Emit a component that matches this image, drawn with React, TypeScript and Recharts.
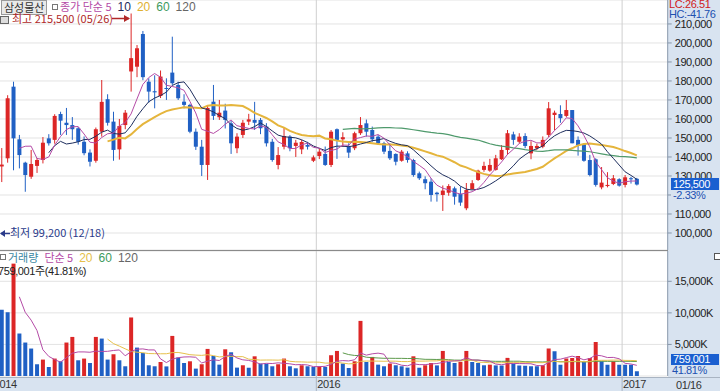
import React from "react";
import { Bar, CartesianGrid, Cell, ComposedChart, Line, ReferenceLine, XAxis, YAxis } from "recharts";

// weekly candles, week of 2014-12-15 (index 0) .. week of 2017-01-16 (index 109)
const OPEN = [
  106000, 135000, 139300, 177000, 149300, 137000, 129600, 135300, 138400, 149800,
  149000, 162600, 158000, 156800, 155100, 148000, 142300, 138000, 153300, 170400,
  158600, 144000, 156800, 185000, 187500, 204700, 179600, 174600, 172100, 176300,
  184400, 177900, 169100, 167400, 153300, 145400, 135800, 169100, 160900, 164400,
  157700, 144600, 151600, 158600, 159500, 159500, 156000, 148000, 135800, 145400,
  150700, 145800, 144000, 146300, 138000, 140500, 141600, 135800, 154600, 149300,
  145400, 144600, 152500, 157700, 154200, 150700, 147200, 143200, 141600, 138000,
  141900, 138400, 131400, 128300, 127000, 121200, 120000, 121200, 123500, 120500,
  113000, 123000, 127900, 133200, 132800, 133200, 138800, 143700, 151900, 148000,
  151000, 141900, 144600, 145400, 151600, 162100, 162600, 161600, 164700, 149000,
  146800, 138400, 138800, 124000, 124700, 125800, 128300, 125300, 128800, 128500,
];
const HIGH = [
  130000, 144700, 172500, 179600, 151600, 137500, 143700, 139500, 150500, 152000,
  162500, 163800, 165800, 161000, 155800, 150800, 144000, 155500, 180500, 173000,
  163800, 160000, 164700, 215500, 198900, 206300, 181400, 183000, 185500, 181400,
  203300, 179600, 173000, 168000, 155000, 149000, 167000, 177900, 170000, 168000,
  159000, 152500, 159500, 162700, 169000, 160500, 157800, 149500, 145200, 155500,
  151500, 149000, 149000, 148000, 140800, 144500, 145500, 154200, 155000, 153000,
  147200, 153300, 161000, 159700, 156000, 151600, 148000, 147200, 141900, 143700,
  143000, 139000, 132300, 129800, 128800, 121700, 125000, 125700, 124400, 124400,
  126300, 127800, 133300, 137500, 139000, 141100, 146300, 154200, 153300, 152500,
  152500, 148300, 147000, 150800, 168900, 164400, 167200, 170000, 164700, 150800,
  147200, 141100, 139300, 134700, 132000, 130500, 128800, 130500, 129500, 129000,
];
const LOW = [
  99200, 126800, 137000, 133000, 134000, 121700, 128500, 131600, 136600, 146000,
  147000, 151600, 151600, 149000, 146500, 140900, 135000, 137000, 150700, 156500,
  138000, 138600, 154600, 174400, 182000, 180400, 168600, 165600, 171000, 170000,
  177900, 170000, 165600, 152500, 143700, 130000, 127900, 159500, 159500, 155000,
  141600, 142000, 150000, 156800, 154200, 152000, 145500, 137500, 133500, 144000,
  143000, 140000, 141500, 143900, 137300, 138900, 135300, 134700, 139000, 145300,
  139500, 143600, 151600, 150700, 148000, 146300, 141500, 138400, 135600, 137500,
  137000, 129600, 127900, 123000, 116500, 116500, 111600, 119600, 114900, 114300,
  112000, 122800, 127400, 132200, 132200, 132800, 138400, 141100, 146400, 147200,
  144600, 138800, 143700, 144600, 150400, 154000, 158000, 160900, 147200, 140700,
  137500, 129800, 124400, 123000, 124000, 125200, 124400, 124000, 126000, 125000,
];
const CLOSE = [
  125000, 136000, 170900, 149800, 141000, 130500, 136300, 138400, 147500, 147200,
  161600, 159100, 156800, 154600, 148000, 142000, 137500, 154600, 169000, 158000,
  143700, 156300, 163300, 192000, 197200, 182000, 174400, 174000, 182300, 176000,
  178800, 170900, 167400, 153300, 145400, 135800, 165800, 161600, 163300, 159500,
  147200, 150700, 158000, 159800, 158000, 155100, 147200, 138400, 141000, 151000,
  144600, 147500, 147900, 145400, 139800, 142800, 135800, 153300, 149000, 150400,
  142300, 152500, 156800, 153300, 149300, 147200, 142800, 139300, 137500, 142800,
  138400, 130500, 128800, 126200, 120000, 120400, 122300, 124700, 119100, 116000,
  122600, 126200, 132800, 135300, 135800, 139300, 143700, 152500, 149000, 150700,
  145800, 145800, 145800, 149000, 165600, 163300, 160400, 164700, 147200, 146300,
  138000, 130500, 125300, 126500, 125300, 128800, 124900, 129300, 128300, 125500,
];
// weekly volume, shares
const VOLUME = [
  17600000, 10500000, 10100000, 17800000, 6730000, 5300000, 4350000, 1860000, 2600000, 1430000,
  2760000, 2330000, 5300000, 6190000, 2490000, 2760000, 2060000, 6190000, 5930000, 2600000,
  3440000, 2490000, 1540000, 9270000, 4500000, 3650000, 1700000, 1540000, 2220000, 1520000,
  6350000, 2920000, 2060000, 2330000, 1170000, 1860000, 4290000, 3170000, 1800000, 4230000,
  3760000, 1330000, 1700000, 1310000, 3120000, 1970000, 1940000, 1540000, 1860000, 2760000,
  1540000, 1220000, 1700000, 1540000, 1430000, 1540000, 1430000, 3290000, 3970000, 1970000,
  1270000, 2330000, 8730000, 2220000, 3020000, 1800000, 1540000, 1970000, 1700000, 1540000,
  1330000, 3120000, 1310000, 1700000, 2060000, 1680000, 3970000, 2220000, 2060000, 2240000,
  3970000, 2220000, 2060000, 1700000, 1800000, 1680000, 1660000, 2870000, 1970000, 1650000,
  1640000, 1540000, 1530000, 1700000, 4350000, 3930000, 1800000, 2760000, 2870000, 3170000,
  2220000, 2870000, 5400000, 2330000, 1800000, 2330000, 1800000, 1790000, 1780000, 759001,
];

const PRICE_TICKS = [100000, 110000, 120000, 130000, 140000, 150000, 160000, 170000, 180000, 190000, 200000, 210000];
const VOLUME_TICKS = [5000000, 10000000, 15000000];
const YEAR_TICKS = [-0.5, 54.5, 106.5];
const YEAR_LABELS = ["2014", "2016", "2017"];

const RED = "#dc2626";
const BLUE = "#2060c4";
const PANEL = "#d8e3f0";
const FONT = "'Liberation Sans', 'Noto Sans CJK KR', sans-serif";
const KFONT = "'Noto Sans CJK KR', sans-serif";
const NUM = { fontSize: 11, letterSpacing: -0.4 };

// plot starts left of the window so the first (IPO) week sits off-screen like the original
const PLOT_LEFT = -12.7;
const CHART_W = 720 - PLOT_LEFT;
const X_DOMAIN: [number, number] = [-1.5, 114.25];

// simple moving averages, as the chart computes them
function sma(values: number[], n: number) {
  return values.map((_, i) => {
    if (i < n - 1) return null;
    let s = 0;
    for (let k = i - n + 1; k <= i; k++) s += values[k];
    return s / n;
  });
}

const MA5 = sma(CLOSE, 5);
const MA10 = sma(CLOSE, 10);
const MA20 = sma(CLOSE, 20);
const MA60 = sma(CLOSE, 60);
const VMA5 = sma(VOLUME, 5);
const VMA20 = sma(VOLUME, 20);
const VMA60 = sma(VOLUME, 60);

const rows = OPEN.map((open, i) => ({
  i,
  open,
  high: HIGH[i],
  low: LOW[i],
  close: CLOSE[i],
  range: [LOW[i], HIGH[i]],
  ma5: MA5[i],
  ma10: MA10[i],
  ma20: MA20[i],
  ma60: MA60[i],
  vol: VOLUME[i],
  vma5: VMA5[i],
  vma20: VMA20[i],
  vma60: VMA60[i],
}));

function Candle(props: any) {
  const { x, y, width, height, payload } = props;
  if (!payload) return null;
  const { open, close, high, low } = payload;
  const color = close >= open ? RED : BLUE;
  const k = high === low ? 0 : height / (high - low);
  const cx = x + width / 2;
  const top = y + (high - Math.max(open, close)) * k;
  const h = Math.max(1, Math.abs(open - close) * k);
  return (
    <g>
      <line x1={cx} x2={cx} y1={y} y2={y + height} stroke={color} strokeWidth={1} />
      <rect x={x} y={top} width={width} height={h} fill={color} />
    </g>
  );
}

function YearTick(props: any) {
  const { x, y, payload } = props;
  const idx = YEAR_TICKS.indexOf(payload.value);
  return (
    <g>
      <line x1={x} x2={x} y1={y} y2={y + 15} stroke="#a9b4c2" />
      <text x={x + 1} y={y + 12} fontSize={11} letterSpacing={-0.4} fontFamily={FONT} fill="#333" textAnchor="start">
        {YEAR_LABELS[idx]}
      </text>
    </g>
  );
}

const fmt = (v: number) => v.toLocaleString("en-US");

export default function App() {
  return (
    <div style={{ position: "relative", width: 720, height: 391, overflow: "hidden", background: PANEL, fontFamily: FONT }}>
      <style>{`body{margin:0}`}</style>
      <div style={{ position: "absolute", left: 0, top: 0, width: 668, height: 377, background: "#fff" }} />
      <div style={{ position: "absolute", left: 0, top: 377, width: 720, height: 1, background: "#a9b4c2" }} />

      {/* price panel */}
      <div style={{ position: "absolute", left: PLOT_LEFT, top: 0 }}>
        <ComposedChart width={CHART_W} height={250} data={rows} margin={{ top: 0, right: 0, bottom: 0, left: 0 }}>
          <CartesianGrid vertical={false} stroke="#e3e3e3" />
          <XAxis dataKey="i" type="number" domain={X_DOMAIN} allowDataOverflow hide />
          <YAxis
            orientation="right"
            width={52}
            domain={[91050, 222600]}
            allowDataOverflow
            ticks={PRICE_TICKS}
            interval={0}
            tickFormatter={fmt}
            tick={{ ...NUM, fill: "#222", fontFamily: FONT }}
            tickSize={4}
            tickMargin={3}
            axisLine={{ stroke: "#8797aa" }}
            tickLine={{ stroke: "#8797aa" }}
          />
          {YEAR_TICKS.map((t) => (
            <ReferenceLine key={t} x={t} stroke="#cfcfcf" />
          ))}
          <Bar dataKey="range" barSize={4} shape={Candle} isAnimationActive={false} />
          <Line dataKey="ma20" stroke="#e5b53c" strokeWidth={2} dot={false} isAnimationActive={false} />
          <Line dataKey="ma60" stroke="#4f9a6c" strokeWidth={1.2} dot={false} isAnimationActive={false} />
          <Line dataKey="ma10" stroke="#1d2d5c" strokeWidth={1} dot={false} isAnimationActive={false} />
          <Line dataKey="ma5" stroke="#b44aa6" strokeWidth={1} dot={false} isAnimationActive={false} />
        </ComposedChart>
      </div>
      <div style={{ position: "absolute", left: 0, top: 250, width: 668, height: 1, background: "#8a8a8a" }} />

      {/* volume panel */}
      <div style={{ position: "absolute", left: PLOT_LEFT, top: 251 }}>
        <ComposedChart width={CHART_W} height={140} data={rows} margin={{ top: 0, right: 0, bottom: 0, left: 0 }}>
          <CartesianGrid vertical={false} stroke="#e3e3e3" />
          <XAxis
            dataKey="i"
            type="number"
            domain={X_DOMAIN}
            allowDataOverflow
            ticks={YEAR_TICKS}
            interval={0}
            height={15}
            tick={YearTick}
            tickSize={0}
            tickMargin={0}
            tickLine={false}
            axisLine={false}
          />
          <YAxis
            orientation="right"
            width={52}
            domain={[0, 19800000]}
            allowDataOverflow
            ticks={VOLUME_TICKS}
            interval={0}
            tickFormatter={(v: number) => fmt(v / 1000) + "K"}
            tick={{ ...NUM, fill: "#222", fontFamily: FONT }}
            tickSize={4}
            tickMargin={3}
            axisLine={{ stroke: "#8797aa" }}
            tickLine={{ stroke: "#8797aa" }}
          />
          {YEAR_TICKS.map((t) => (
            <ReferenceLine key={t} x={t} stroke="#cfcfcf" />
          ))}
          <Bar dataKey="vol" barSize={4} isAnimationActive={false}>
            {rows.map((r, i) => (
              <Cell key={i} fill={i > 0 && r.vol <= VOLUME[i - 1] ? BLUE : RED} />
            ))}
          </Bar>
          <Line dataKey="vma60" stroke="#5c9a4a" strokeWidth={1} dot={false} isAnimationActive={false} />
          <Line dataKey="vma20" stroke="#e6c04a" strokeWidth={1} dot={false} isAnimationActive={false} />
          <Line dataKey="vma5" stroke="#b44aa6" strokeWidth={1} dot={false} isAnimationActive={false} />
        </ComposedChart>
      </div>

      {/* price header */}
      <div style={{ position: "absolute", left: 1, top: 0, height: 13, padding: "0 2px", background: "#e9e9e9", border: "1px solid #9a9a9a", fontFamily: KFONT, fontSize: 11, lineHeight: "13px", color: "#333" }}>
        삼성물산
      </div>
      <div style={{ position: "absolute", left: 52, top: 4, width: 4, height: 4, border: "1px solid #777", background: "#fff" }} />
      <div style={{ position: "absolute", left: 60, top: -1, fontSize: 12, lineHeight: "14px", whiteSpace: "nowrap" }}>
        <span style={{ color: "#b44aa6", fontFamily: KFONT, fontSize: 11 }}>종가 단순 5</span>
        <span style={{ color: "#1d2d5c", marginLeft: 6 }}>10</span>
        <span style={{ color: "#e0b030", marginLeft: 6 }}>20</span>
        <span style={{ color: "#3d9a5c", marginLeft: 6 }}>60</span>
        <span style={{ color: "#666", marginLeft: 6 }}>120</span>
      </div>
      <div style={{ position: "absolute", left: 0, top: 16, width: 7, height: 6, border: "1px solid #666", background: "#ddd" }} />
      <div style={{ position: "absolute", left: 12, top: 13, fontFamily: KFONT, fontSize: 11, lineHeight: "11px", color: "#b02828", whiteSpace: "nowrap" }}>
        최고 215,500 (05/26)
      </div>
      <svg style={{ position: "absolute", left: 0, top: 0 }} width={140} height={30}>
        <line x1={112} x2={129} y1={18.5} y2={18.5} stroke="#b02828" strokeWidth={1.5} />
        <path d="M124 15 L130 18.5 L124 22 Z" fill="#b02828" />
      </svg>
      <div style={{ position: "absolute", left: 10, top: 226, fontFamily: KFONT, fontSize: 11, lineHeight: "13px", color: "#2a3a8a", whiteSpace: "nowrap" }}>
        최저 99,200 (12/18)
      </div>
      <svg style={{ position: "absolute", left: 0, top: 226 }} width={12} height={14}>
        <line x1={1} x2={10} y1={7.5} y2={7.5} stroke="#2a3a8a" strokeWidth={1.5} />
        <path d="M0 7.5 L5 4 L5 11 Z" fill="#2a3a8a" />
      </svg>

      {/* volume header */}
      <div style={{ position: "absolute", left: 0, top: 254, width: 4, height: 4, border: "1px solid #777", background: "#fff" }} />
      <div style={{ position: "absolute", left: 8, top: 250, fontSize: 12, lineHeight: "14px", whiteSpace: "nowrap" }}>
        <span style={{ color: "#3a86a0", fontFamily: KFONT, fontSize: 11 }}>거래량</span>
        <span style={{ color: "#b44aa6", fontFamily: KFONT, fontSize: 11, marginLeft: 6 }}>단순 5</span>
        <span style={{ color: "#e6c04a", marginLeft: 6 }}>20</span>
        <span style={{ color: "#3d9a5c", marginLeft: 6 }}>60</span>
        <span style={{ color: "#666", marginLeft: 6 }}>120</span>
      </div>
      <div style={{ position: "absolute", left: -2, top: 264, ...NUM, lineHeight: "12px", color: "#222", whiteSpace: "nowrap" }}>
        759,001<span style={{ fontFamily: KFONT }}>주</span>(41.81%)
      </div>

      {/* right panel labels */}
      <div style={{ position: "absolute", left: 669, top: -1, ...NUM, lineHeight: "11px", color: "#d02020" }}>LC:26.51</div>
      <div style={{ position: "absolute", left: 669, top: 9, ...NUM, lineHeight: "11px", color: "#2050b0" }}>HC:-41.76</div>
      <div style={{ position: "absolute", left: 671, top: 178, width: 46, height: 12, background: "#1a5fd0", color: "#fff", ...NUM, lineHeight: "12px", paddingLeft: 2 }}>125,500</div>
      <div style={{ position: "absolute", left: 671, top: 190, width: 48, height: 11, background: PANEL, ...NUM, lineHeight: "11px", color: "#2050b0", paddingLeft: 2 }}>-2.33%</div>
      <div style={{ position: "absolute", left: 671, top: 354, width: 46, height: 11, background: "#1a5fd0", color: "#fff", ...NUM, lineHeight: "11px", paddingLeft: 2 }}>759,001</div>
      <div style={{ position: "absolute", left: 672, top: 365, ...NUM, lineHeight: "10px", color: "#2050b0" }}>41.81%</div>
      <div style={{ position: "absolute", left: 676, top: 379, ...NUM, lineHeight: "12px", color: "#333" }}>01/16</div>
      <div style={{ position: "absolute", left: 714, top: 253, width: 5, height: 5, border: "1px solid #555", background: "#fff" }} />
    </div>
  );
}
